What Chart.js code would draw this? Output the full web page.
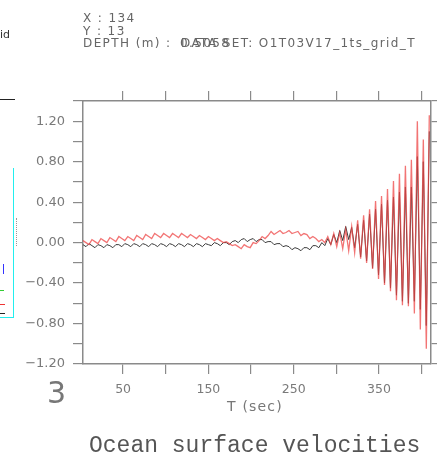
<!DOCTYPE html>
<html>
<head>
<meta charset="utf-8">
<script src="https://cdn.jsdelivr.net/npm/chart.js@4.4.1/dist/chart.umd.min.js"></script>
<style>
  body { margin: 0; width: 439px; height: 461px; position: relative; overflow: hidden; background: #fff; font-family: "DejaVu Sans", sans-serif; }
  #plot { position: absolute; left: 0; top: 0; }
  .txt { position: absolute; white-space: pre; color: #666; line-height: 1; }
  .hdr { font-size: 12px; letter-spacing: 1.4px; color: #666; }
  .bit { position: absolute; }
</style>
</head>
<body>
<canvas id="plot" width="439" height="461"></canvas>

<!-- header lines -->
<div class="txt hdr" style="left:83px; top:12px;">X : 134</div>
<div class="txt hdr" style="left:83px; top:24.5px;">Y : 13</div>
<div class="txt hdr" style="left:83px; top:37px;">DEPTH (m) : </div>
<div class="txt hdr" style="left:180px; top:37px;">0.5058</div>
<div class="txt hdr" style="left:181px; top:37px;">DATA SET: O1T03V17_1ts_grid_T</div>

<!-- leftover bits of the neighbouring panel -->
<div class="txt" style="left:0px; top:29px; font-size:11px; color:#333;">id</div>
<div class="bit" style="left:0; top:99px; width:15px; height:1px; background:#222;"></div>
<div class="bit" style="left:13px; top:168px; width:1px; height:150px; background:#2ee;"></div>
<div class="bit" style="left:0; top:317px; width:14px; height:1px; background:#2ee;"></div>
<div class="bit" style="left:3px; top:264px; width:1px; height:10px; background:#33f;"></div>
<div class="bit" style="left:0; top:290px; width:4px; height:1px; background:#3c3;"></div>
<div class="bit" style="left:0; top:304px; width:5px; height:1px; background:#e33;"></div>
<div class="bit" style="left:0; top:313px; width:5px; height:1px; background:#222;"></div>
<div class="bit" style="left:16px; top:218px; width:0; height:28px; border-left:1px dotted #999;"></div>
<div class="txt" style="left:47px; top:378px; font-size:30px; color:#777;">3</div>

<div class="txt" style="left:227px; top:399px; font-size:14px; letter-spacing:1.2px; color:#777;">T (sec)</div>
<div class="txt" style="left:89px; top:435px; font-size:23px; color:#555; font-family:'Liberation Mono', monospace;">Ocean surface velocities</div>

<script>
// time axis (sec)
const times = [
  3, 6.5, 10, 13.5, 17, 20.5, 24, 27.5, 31, 34.5,
  38, 41.5, 45, 48.5, 52, 55.5, 59, 62.5, 66, 69.5,
  73, 76.5, 80, 83.5, 87, 90.5, 94, 97.5, 101, 104.5,
  108, 111.5, 115, 118.5, 122, 125.5, 129, 132.5, 136, 139.5,
  143, 146.5, 150, 153.5, 157, 160.5, 164, 167.5, 171, 174.5,
  178, 181.5, 185, 188.5, 192, 195.5, 199, 202.5, 206, 209.5,
  213, 216.5, 220, 223.5, 227, 230.5, 234, 237.5, 241, 244.5,
  248, 251.5, 255, 258.5, 262, 265.5, 269, 272.5, 276, 279.5,
  283, 286.5, 290, 293.5, 297, 300.5, 304, 307.5, 311, 314.5,
  318, 321.5, 325, 328.5, 332, 335.5, 339, 342.5, 346, 349.5,
  353, 356.5, 360, 363.5, 367, 370.5, 374, 377.5, 381, 384.5,
  388, 391.5, 395, 398.5, 402, 405.5, 409
];

// red curve
const redValues = [
  0.02, 0.00, -0.02, 0.03, 0.01, -0.01, 0.04, 0.02, 0.00, 0.05,
  0.03, 0.01, 0.06, 0.04, 0.02, 0.06, 0.04, 0.02, 0.07, 0.05,
  0.03, 0.08, 0.06, 0.04, 0.09, 0.07, 0.05, 0.09, 0.07, 0.05,
  0.09, 0.07, 0.05, 0.09, 0.07, 0.05, 0.08, 0.06, 0.04, 0.07,
  0.05, 0.03, 0.06, 0.04, 0.02, 0.04, 0.02, 0.00, 0.01, -0.01,
  -0.03, -0.02, -0.04, -0.06, -0.02, -0.04, -0.05, 0.00, -0.01, 0.02,
  0.06, 0.04, 0.07, 0.11, 0.08, 0.10, 0.12, 0.09, 0.10, 0.12,
  0.09, 0.10, 0.11, 0.07, 0.09, 0.08, 0.04, 0.06, 0.04, 0.01,
  0.03, 0.00, 0.06, -0.02, 0.09, -0.04, 0.10, -0.06, 0.13, -0.08,
  0.16, -0.10, 0.22, -0.16, 0.27, -0.20, 0.33, -0.26, 0.41, -0.36,
  0.46, -0.42, 0.53, -0.48, 0.61, -0.57, 0.68, -0.62, 0.76, -0.63,
  0.82, -0.70, 1.20, -0.86, 1.02, -1.05, 1.26
];

// black curve
const blackValues = [
  -0.02, -0.04, -0.01, -0.03, -0.05, -0.02, -0.03, -0.05, -0.02, -0.03,
  -0.05, -0.02, -0.02, -0.04, -0.01, -0.02, -0.04, -0.01, -0.02, -0.04,
  -0.01, -0.02, -0.04, -0.01, -0.02, -0.04, -0.01, -0.02, -0.04, -0.01,
  -0.02, -0.04, -0.01, -0.02, -0.04, -0.01, -0.02, -0.04, -0.01, -0.02,
  -0.04, -0.01, -0.02, -0.03, 0.00, -0.01, -0.03, 0.00, 0.00, -0.02,
  0.01, 0.02, 0.00, 0.03, 0.04, 0.01, 0.03, 0.04, 0.01, 0.03,
  0.03, 0.00, 0.01, 0.01, -0.02, -0.01, -0.01, -0.04, -0.03, -0.04,
  -0.07, -0.05, -0.06, -0.08, -0.05, -0.05, -0.07, -0.03, -0.03, -0.05,
  0.00, -0.03, 0.04, -0.02, 0.08, 0.00, 0.12, 0.02, 0.16, 0.03,
  0.15, -0.05, 0.18, -0.14, 0.22, -0.18, 0.28, -0.25, 0.33, -0.32,
  0.38, -0.40, 0.42, -0.45, 0.45, -0.52, 0.50, -0.58, 0.55, -0.60,
  0.55, -0.58, 0.85, -0.66, 0.80, -0.82, 1.10
];

// tick marks and which of them carry a label
const xTickValues = [50, 100, 150, 200, 250, 300, 350, 400];
const xTickLabels = [50, 150, 250, 350];
const yTickValues = [-1.2, -1.0, -0.8, -0.6, -0.4, -0.2, 0, 0.2, 0.4, 0.6, 0.8, 1.0, 1.2, 1.4];
const yTickLabels = [-1.2, -0.8, -0.4, 0, 0.4, 0.8, 1.2];

const axisGrey = "#8a8a8a";
const hasValue = (list, v) => list.some((t) => Math.abs(t - v) < 1e-6);

const toPoints = (vals) => vals.map((v, i) => ({ x: times[i], y: v }));

// shared look for the four frame axes
function frameGrid() {
  return {
    drawOnChartArea: false,
    drawTicks: true,
    tickLength: 10,
    color: axisGrey,
    lineWidth: 1.2,
  };
}
const frameBorder = { display: true, color: axisGrey, width: 1.5 };

const ctx = document.getElementById("plot").getContext("2d");

new Chart(ctx, {
  type: "line",
  data: {
    datasets: [
      {
        label: "red",
        data: toPoints(redValues),
        borderColor: "rgba(238, 70, 70, 0.75)",
        borderWidth: 1.3,
        pointRadius: 0,
        tension: 0,
      },
      {
        label: "black",
        data: toPoints(blackValues),
        borderColor: "#3a3a3a",
        borderWidth: 1,
        pointRadius: 0,
        tension: 0,
      },
    ],
  },
  options: {
    responsive: false,
    animation: false,
    layout: { padding: 0 },
    plugins: {
      legend: { display: false },
      tooltip: { enabled: false },
    },
    scales: {
      x: {
        type: "linear",
        position: "bottom",
        min: 3,
        max: 411,
        afterBuildTicks: (s) => { s.ticks = xTickValues.map((v) => ({ value: v })); },
        afterFit: (s) => { s.height = 97; },
        ticks: {
          autoSkip: false,
          maxRotation: 0,
          padding: 8,
          color: "#7a7a7a",
          font: { family: "DejaVu Sans", size: 12.5 },
          callback: (v) => (hasValue(xTickLabels, v) ? String(v) : ""),
        },
        grid: frameGrid(),
        border: frameBorder,
      },
      x2: {
        type: "linear",
        position: "top",
        min: 3,
        max: 411,
        afterBuildTicks: (s) => { s.ticks = xTickValues.map((v) => ({ value: v })); },
        afterFit: (s) => { s.height = 101; },
        ticks: { display: false },
        grid: frameGrid(),
        border: frameBorder,
      },
      y: {
        position: "left",
        min: -1.2,
        max: 1.4,
        afterBuildTicks: (s) => { s.ticks = yTickValues.map((v) => ({ value: v })); },
        afterFit: (s) => { s.width = 83; },
        ticks: {
          autoSkip: false,
          padding: 8,
          color: "#7a7a7a",
          font: { family: "DejaVu Sans", size: 13 },
          callback: (v) => (hasValue(yTickLabels, v) ? v.toFixed(2).replace("-", "\u2212") : ""),
        },
        grid: frameGrid(),
        border: frameBorder,
      },
      y2: {
        position: "right",
        min: -1.2,
        max: 1.4,
        afterBuildTicks: (s) => { s.ticks = yTickValues.map((v) => ({ value: v })); },
        afterFit: (s) => { s.width = 8; },
        ticks: { display: false },
        grid: { ...frameGrid(), tickLength: 6 },
        border: frameBorder,
      },
    },
  },
});
</script>
</body>
</html>
